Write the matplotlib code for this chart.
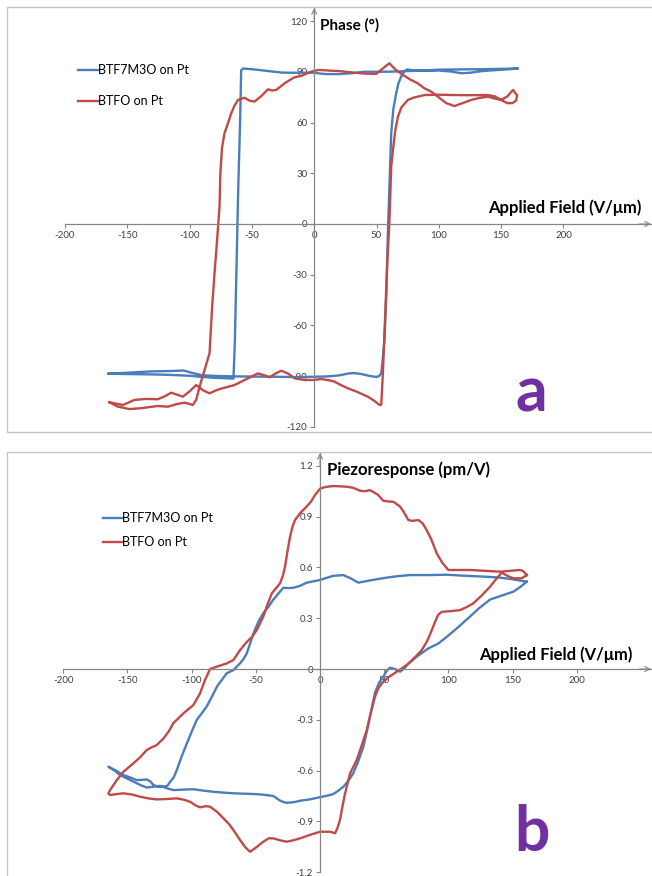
import matplotlib
matplotlib.use("Agg")
import matplotlib.pyplot as plt
from matplotlib.patches import Rectangle

plt.rcParams['font.family'] = ['Lato', 'DejaVu Sans']

# ---------------- data ----------------
series_names = ["BTF7M3O on Pt", "BTFO on Pt"]

x_ticks = [-200, -150, -100, -50, 0, 50, 100, 150, 200]
a_y_ticks = [-120, -90, -60, -30, 0, 30, 60, 90, 120]
b_y_ticks = [-1.2, -0.9, -0.6, -0.3, 0, 0.3, 0.6, 0.9, 1.2]

# Panel a: phase (deg) vs applied field (V/um)
a_blue_x = [-165, -150, -130, -115, -105, -97, -90, -75, -60, -45, -30, -15, 0, 10, 20, 27, 32, 38, 45, 50, 52,
            53.8, 55, 56.4, 58, 59.1, 60.5, 61.8, 63.5, 65.8, 67.5, 69.8, 72, 74.6, 80, 90, 100, 110, 118, 125,
            135, 145, 155, 163.7,
            150, 135, 120, 100, 80, 60, 40, 30, 20, 10, 5, 0, -10, -20, -26, -37, -45, -52, -57, -58.6, -59.5,
            -61, -62.5, -63.7, -64.8, -70, -80, -90, -100, -115, -130, -150, -165]
a_blue_y = [-88.6, -88.0, -87.2, -87.0, -86.7, -88.3, -89.5, -90.0, -90.2, -90.3, -90.4, -90.6, -90.4, -90.2,
            -89.6, -88.5, -88.2, -88.8, -90.0, -90.5, -90.0,
            -88.4, -80, -68.6, -40, -5.5, 25, 53.7, 68, 77.3, 83, 87.2, 90, 91.5, 90.8, 90.6, 90.8, 90.2, 89.2,
            89.5, 90.5, 91, 91.5, 92,
            91.8, 91.6, 91.5, 91.3, 90.6, 90.1, 90.1, 89.2, 88.7, 88.7, 89.0, 89.5, 89.5, 89.5, 89.6, 90.5, 91.2,
            91.7, 92, 91, 60, 20, -30, -70, -91.5, -91.3, -91, -90.5, -89.8, -89.3, -89.0, -88.8, -88.6]

a_red_x = [-164.3, -153.5, -144.2, -135, -125.5, -120, -114.8, -110, -105.4, -100, -94.7, -89, -84, -79, -74.6,
           -64, -55, -45.2, -40, -35.9, -31, -26.5, -21, -15.8, -8, 0.3, 5.6, 13.6, 16.3, 22, 27, 35, 43.1, 48,
           52.4, 53.8, 55, 56.4, 58.5, 60.4, 61.8, 63.2, 65, 67.2, 70, 75.2, 80, 88.5, 100, 112.6, 125, 139.4,
           145, 150, 155, 159, 162,
           162.9, 159.5, 155, 150, 145, 139.4, 132, 126, 119, 112.6, 106, 99.3, 93.9, 88, 83.2, 77, 71.2, 65,
           60.4, 55, 49.8, 40, 32.3, 20, 13.6, 5.6, 3, -3, -10.4, -15.8, -20, -23.8, -30.5, -34, -37.2, -42,
           -47.9, -52, -55.9, -61.2, -64, -66.6, -69, -72, -74, -75.3, -76, -77, -78.5, -80, -82, -84, -88,
           -92, -94.7, -97.4, -100, -104, -110, -117.4, -125.5, -132, -138.8, -148.2, -157.6, -164.3]
a_red_y = [-105.5, -107.1, -104.1, -103.5, -103.7, -102, -99.8, -101, -102.2, -99, -95.3, -98.5, -100.2, -98.5,
           -97.4, -95.3, -92, -88.4, -89.5, -90.7, -88.5, -86.8, -88.5, -91.3, -92.3, -92.3, -91.7, -92.7, -93.3,
           -95.5, -97.2, -99.5, -102.2, -104.5, -107.1, -107, -90, -64.7, -25, 2, 33.9, 43.8, 55, 63.5, 69,
           73.4, 74.8, 76.3, 76.5, 76.3, 76.2, 76.3, 75.5, 73.4, 71.5, 71.5, 73,
           76, 79.3, 75.5, 73.4, 74.2, 75.3, 74.5, 73.4, 71.5, 69.8, 71.5, 75.3, 78.3, 80.5, 83.2, 85.5, 88.2,
           91.5, 95.1, 92, 88.8, 89, 89.5, 90.5, 90.7, 91.1, 91.1, 90, 87.6, 86.8, 85, 83.2, 79.3, 79, 79.7, 76,
           72.4, 73, 74.7, 73.4, 70, 65.5, 60, 53.7, 45, 30, 10, 0, -15, -29.2, -50, -76.5, -86.4, -96.3, -104,
           -107.1, -106.5, -105.7, -106.5, -108.1, -107.7, -108.3, -109, -109.5, -108.1, -105.5]

# Panel b: piezoresponse (pm/V) vs applied field (V/um)
b_blue_x = [161, 150, 140, 129.8, 115, 98.7, 85, 70.1, 60, 51.9, 40, 29.8, 24, 18.2, 10, 7.8, 0, -10.4, -16,
            -20.8, -25, -28.6, -32, -36.4, -40, -44.2, -48, -51.9, -54.5, -57.1, -59.5, -62.3, -67.5, -72.7,
            -76.6, -80, -84, -88.2, -92, -96, -100, -103.8, -108, -111.6, -114, -116.8, -119, -122, -126,
            -129.8, -132, -135, -139, -142.8, -148, -153.2, -159, -164.9,
            -160, -155.8, -150, -145.4, -140, -135, -130, -124.6, -119, -114.3, -106, -98.7, -91, -83.1, -75,
            -67.5, -60, -51.9, -44, -36.4, -33.5, -31.2, -28, -25.9, -20, -15.6, -8, 0, 7.8, 10.4, 14, 18.2,
            22, 25.9, 29.5, 33.7, 37, 40, 42.8, 46, 49.3, 52, 54.5, 58.4, 62.3, 65, 70, 75.3, 84.4, 92, 98.7,
            108, 116.8, 124, 132.4, 140, 150.6, 156, 161]
b_blue_y = [0.516, 0.53, 0.54, 0.545, 0.55, 0.557, 0.555, 0.555, 0.548, 0.54, 0.525, 0.51, 0.535, 0.555, 0.55,
            0.545, 0.526, 0.51, 0.49, 0.48, 0.478, 0.48, 0.45, 0.41, 0.37, 0.33, 0.28, 0.21, 0.15, 0.093, 0.06,
            0.034, -0.006, -0.025, -0.065, -0.1, -0.16, -0.22, -0.26, -0.30, -0.37, -0.44, -0.52, -0.597,
            -0.64, -0.666, -0.69, -0.695, -0.695, -0.685, -0.665, -0.652, -0.655, -0.656, -0.64, -0.626, -0.6,
            -0.577,
            -0.6, -0.626, -0.648, -0.665, -0.685, -0.70, -0.695, -0.69, -0.705, -0.715, -0.712, -0.71, -0.718,
            -0.725, -0.73, -0.734, -0.736, -0.738, -0.742, -0.75, -0.765, -0.777, -0.787, -0.79, -0.786,
            -0.778, -0.77, -0.757, -0.744, -0.738, -0.72, -0.695, -0.66, -0.616, -0.55, -0.46, -0.35, -0.24,
            -0.14, -0.08, -0.045, -0.01, 0.008, 0.0, -0.016, 0.0, 0.04, 0.073, 0.122, 0.15, 0.19, 0.25, 0.31,
            0.36, 0.41, 0.43, 0.457, 0.485, 0.516]

b_red_x = [161, 158, 155.8, 148, 140.2, 128, 116.8, 108, 99.9, 95, 90.9, 87, 83.1, 80, 76.6, 72, 68.8, 65, 62.3,
           57.1, 53, 49.3, 45, 38.9, 35, 31.2, 26, 20.8, 10.4, 4, 0, -3.9, -7, -10.4, -15, -19.5, -21.5, -23.4,
           -25.5, -27.3, -29, -31.2, -34, -37.6, -41, -44.2, -49.3, -53, -57.1, -62.3, -67.5, -72.7, -80.5,
           -85.7, -89.6, -93.5, -98.7, -106.5, -114.3, -118, -122, -127.2, -131, -135, -140, -145.4, -153.2,
           -158.3, -163.6, -164.9,
           -163.6, -159.7, -153.2, -146, -140.2, -133, -127.2, -120, -111.6, -106, -101.2, -97, -93.5, -89,
           -85.7, -80, -75.3, -71, -67.5, -64.5, -62.3, -58, -54.5, -50, -44.2, -40, -36.4, -31, -25.9, -20,
           -15.6, -8, 0, 3.9, 7.8, 11.7, 13.5, 15.6, 17.5, 19.5, 23.4, 28.6, 32.5, 36.4, 39.5, 42.8, 45.4, 48.1,
           53, 59.7, 65, 70, 75.3, 79, 83.1, 86, 89.6, 92, 94.8, 102, 109, 114, 119.4, 126, 132.4, 137, 141.5,
           146, 150.6, 157, 161]
b_red_y = [0.555, 0.58, 0.585, 0.58, 0.575, 0.58, 0.585, 0.585, 0.585, 0.63, 0.683, 0.76, 0.82, 0.86, 0.88,
           0.875, 0.88, 0.93, 0.96, 0.988, 0.99, 0.994, 1.03, 1.057, 1.05, 1.053, 1.07, 1.077, 1.081, 1.075,
           1.065, 1.028, 0.99, 0.96, 0.925, 0.88, 0.84, 0.78, 0.69, 0.604, 0.55, 0.506, 0.48, 0.447, 0.38,
           0.31, 0.23, 0.19, 0.16, 0.112, 0.053, 0.033, 0.014, 0.0, -0.065, -0.144, -0.213, -0.262, -0.32,
           -0.37, -0.41, -0.449, -0.462, -0.478, -0.52, -0.557, -0.607, -0.656, -0.715, -0.735,
           -0.744, -0.74, -0.734, -0.742, -0.754, -0.765, -0.77, -0.768, -0.764, -0.772, -0.784, -0.805,
           -0.817, -0.81, -0.813, -0.845, -0.882, -0.915, -0.951, -0.985, -1.01, -1.055, -1.079, -1.055,
           -1.02, -1.0, -1.0, -1.012, -1.02, -1.01, -1.0, -0.98, -0.961, -0.961, -0.961, -0.97, -0.94, -0.89,
           -0.81, -0.734, -0.616, -0.537, -0.45, -0.36, -0.26, -0.163, -0.114, -0.085, -0.05, -0.016, 0.01,
           0.04, 0.08, 0.11, 0.16, 0.21, 0.279, 0.32, 0.338, 0.342, 0.348, 0.365, 0.388, 0.435, 0.486, 0.53,
           0.569, 0.55, 0.536, 0.536, 0.555]

# ---------------- styling ----------------
W, H = 652, 876
BLUE = '#4A7EBB'
RED = '#BE4B48'
AXC = '#868686'
TXT = '#404040'
PURPLE = '#7030A0'


def fx(px):
    return px / W


def fy(py):
    return 1 - py / H


fig = plt.figure(figsize=(W / 100, H / 100), dpi=100)
fig.patch.set_facecolor('white')

# panel borders
fig.add_artist(Rectangle((fx(7), fy(432)), fx(660) - fx(7), (432 - 7) / H, transform=fig.transFigure,
                         fill=False, ec='#C4C4C4', lw=1.0))
fig.add_artist(Rectangle((fx(7), fy(890)), fx(660) - fx(7), (890 - 452) / H, transform=fig.transFigure,
                         fill=False, ec='#C4C4C4', lw=1.0))


def setup_axes(ax, xlim, ylim, yticks, yfmt):
    ax.set_xlim(*xlim)
    ax.set_ylim(*ylim)
    ax.patch.set_alpha(0)
    for s in ['top', 'right']:
        ax.spines[s].set_visible(False)
    ax.spines['left'].set_position(('data', 0))
    ax.spines['bottom'].set_position(('data', 0))
    for s in ['left', 'bottom']:
        ax.spines[s].set_color(AXC)
        ax.spines[s].set_linewidth(0.9)
    ax.set_xticks(x_ticks)
    ax.set_xticklabels([str(v) for v in x_ticks])
    ax.set_yticks(yticks)
    ax.set_yticklabels([yfmt(v) for v in yticks])
    ax.tick_params(axis='both', colors=AXC, labelcolor=TXT, labelsize=7, length=3, width=0.8,
                   direction='out', pad=2)
    ax.annotate('', xy=(xlim[1], 0), xytext=(xlim[1] - 0.02 * (xlim[1] - xlim[0]), 0),
                arrowprops=dict(arrowstyle='->', color=AXC, lw=0.8, shrinkA=0, shrinkB=0,
                                mutation_scale=9), annotation_clip=False)
    ax.annotate('', xy=(0, ylim[1]), xytext=(0, ylim[1] - 0.03 * (ylim[1] - ylim[0])),
                arrowprops=dict(arrowstyle='->', color=AXC, lw=0.8, shrinkA=0, shrinkB=0,
                                mutation_scale=9), annotation_clip=False)
    for lab in ax.get_xticklabels() + ax.get_yticklabels():
        lab.set_fontfamily(['Lato', 'DejaVu Sans'])


# ---------------- panel a ----------------
axa = fig.add_axes([fx(65), fy(426.8), (651 - 65) / W, (426.8 - 8) / H])
setup_axes(axa, (-200, 270.3), (-120, 127.8), a_y_ticks, lambda v: str(v))
la1, = axa.plot(a_blue_x, a_blue_y, color=BLUE, lw=1.7, solid_joinstyle='round', label=series_names[0])
la2, = axa.plot(a_red_x, a_red_y, color=RED, lw=1.7, solid_joinstyle='round', label=series_names[1])
axa.legend(handles=[la1, la2], loc='upper left', bbox_to_anchor=(fx(78), fy(64)),
           bbox_transform=fig.transFigure, frameon=False, fontsize=9, handlelength=1.6,
           handletextpad=0.0, borderpad=0, borderaxespad=0, labelspacing=1.55, labelcolor='black')

fig.text(fx(320), fy(25), 'Phase (°)', fontsize=11, fontweight='bold', ha='left', va='center')
fig.text(fx(641), fy(208), 'Applied Field (V/μm)', fontsize=12, fontweight='bold', ha='right', va='center',
         family=['Lato', 'DejaVu Sans'])
fig.text(fx(531), fy(411.7), 'a', fontsize=45, fontweight='bold', color=PURPLE, ha='center', va='baseline')

# ---------------- panel b ----------------
axb = fig.add_axes([fx(63.3), fy(872.2), (651 - 63.3) / W, (872.2 - 453) / H])
setup_axes(axb, (-200, 257.8), (-1.2, 1.276), b_y_ticks, lambda v: ('0' if v == 0 else f'{v:g}'))
lb1, = axb.plot(b_blue_x, b_blue_y, color=BLUE, lw=1.7, solid_joinstyle='round', label=series_names[0])
lb2, = axb.plot(b_red_x, b_red_y, color=RED, lw=1.7, solid_joinstyle='round', label=series_names[1])
axb.legend(handles=[lb1, lb2], loc='upper left', bbox_to_anchor=(fx(103), fy(512)),
           bbox_transform=fig.transFigure, frameon=False, fontsize=9, handlelength=1.55,
           handletextpad=0.0, borderpad=0, borderaxespad=0, labelspacing=1.0, labelcolor='black')

fig.text(fx(327), fy(470), 'Piezoresponse (pm/V)', fontsize=12, fontweight='bold', ha='left', va='center')
fig.text(fx(632), fy(655), 'Applied Field (V/μm)', fontsize=12, fontweight='bold', ha='right', va='center',
         family=['Lato', 'DejaVu Sans'])
fig.text(fx(532), fy(851), 'b', fontsize=45, fontweight='bold', color=PURPLE, ha='center', va='baseline')

fig.savefig('out.png', dpi=100, facecolor='white')
